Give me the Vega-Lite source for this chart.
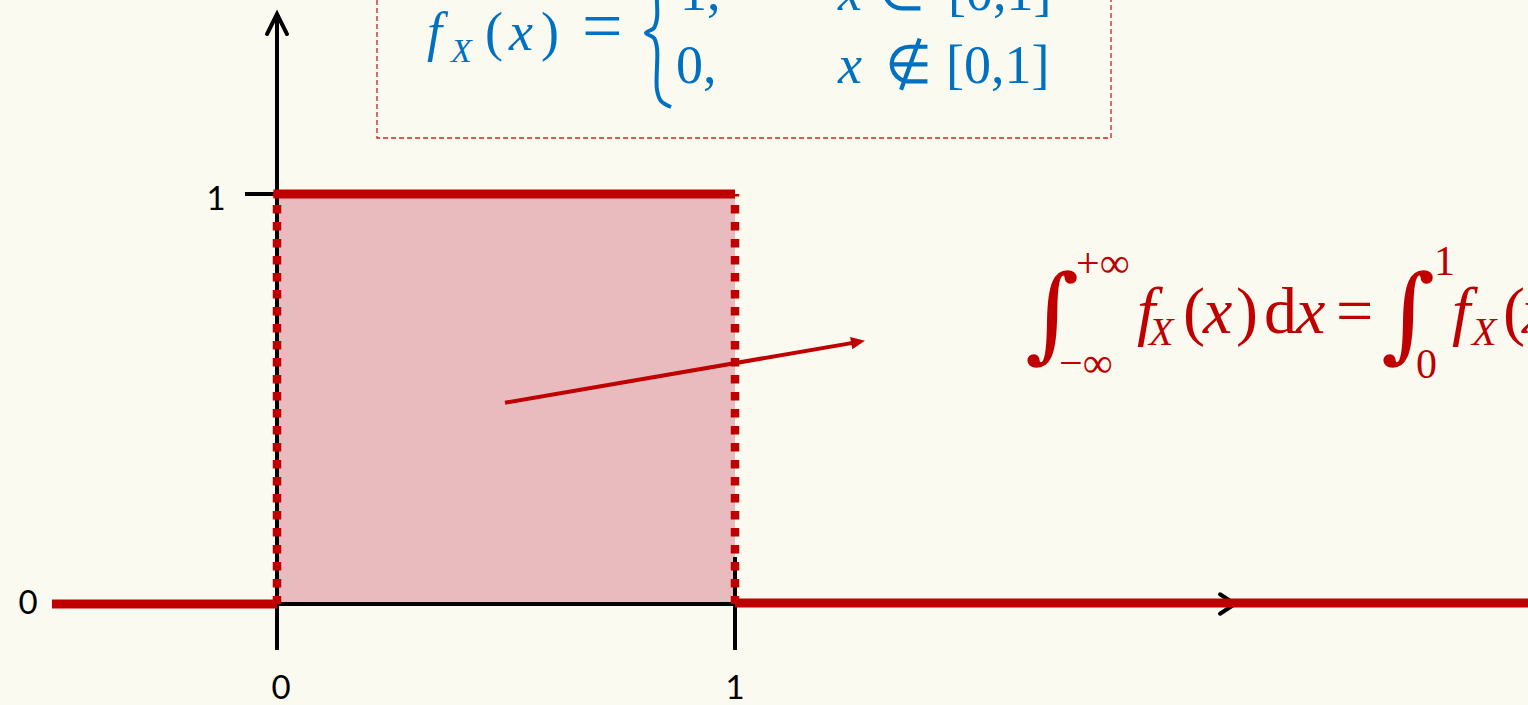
{
  "$schema": "https://vega.github.io/schema/vega-lite/v6.json",
  "width": 1528,
  "height": 705,
  "autosize": "none",
  "padding": 0,
  "background": "#FAFAF0",
  "config": {"view": {"stroke": null}},
  "encoding": {
    "x": {"field": "x", "type": "quantitative", "scale": {"domain": [-0.6048, 2.7314], "nice": false, "zero": false}, "axis": null},
    "y": {"field": "y", "type": "quantitative", "scale": {"domain": [-0.2463, 1.4732], "nice": false, "zero": false}, "axis": null}
  },
  "layer": [
    {
      "data": {"values": [{"x": 0, "x2": 1, "y": 0, "y2": 1}]},
      "mark": {"type": "rect", "fill": "#EABBBE"},
      "encoding": {"x2": {"field": "x2"}, "y2": {"field": "y2"}}
    },
    {
      "data": {"values": [{"x": 0.2183, "x2": 1.821, "y": 1.1366, "y2": 1.7}]},
      "mark": {"type": "rect", "filled": false, "stroke": "#D02020", "strokeWidth": 1.3, "strokeDash": [5, 3], "clip": true},
      "encoding": {"x2": {"field": "x2"}, "y2": {"field": "y2"}}
    },
    {
      "data": {"values": [
        {"part": "y axis", "x": 0, "x2": 0, "y": 0, "y2": 1.439},
        {"part": "x axis", "x": 0, "x2": 2.0917, "y": 0, "y2": 0},
        {"part": "tick 0", "x": 0, "x2": 0, "y": 0, "y2": -0.1122},
        {"part": "tick 1", "x": 1, "x2": 1, "y": 0.1146, "y2": -0.1122},
        {"part": "y tick 1", "x": -0.0699, "x2": 0, "y": 1, "y2": 1}
      ]},
      "mark": {"type": "rule", "color": "black", "strokeWidth": 4},
      "encoding": {"x2": {"field": "x2"}, "y2": {"field": "y2"}}
    },
    {
      "data": {"values": [{"x": 0, "y": 1.439}]},
      "mark": {"type": "point", "shape": "M -0.5 1 L 0 0 L 0.5 1", "size": 1600, "filled": false, "stroke": "black", "strokeWidth": 4, "opacity": 1, "strokeCap": "round"}
    },
    {
      "data": {"values": [{"x": 2.0917, "y": 0}]},
      "mark": {"type": "point", "shape": "M -1 -0.65 L 0 0 L -1 0.65", "size": 900, "filled": false, "stroke": "black", "strokeWidth": 4, "opacity": 1, "strokeCap": "round"}
    },
    {
      "data": {"values": [
        {"x": -0.4913, "x2": 0, "y": 0, "y2": 0},
        {"x": -0.008, "x2": 1, "y": 1, "y2": 1},
        {"x": 1, "x2": 2.7314, "y": 0.0024, "y2": 0.0024}
      ]},
      "mark": {"type": "rule", "color": "#C00000", "strokeWidth": 9},
      "encoding": {"x2": {"field": "x2"}, "y2": {"field": "y2"}}
    },
    {
      "data": {"values": [
        {"x": 0, "x2": 0, "y": 1, "y2": 0},
        {"x": 1, "x2": 1, "y": 1, "y2": 0}
      ]},
      "mark": {"type": "rule", "color": "#C00000", "strokeWidth": 8.5, "strokeDash": [8.5, 8.5], "strokeDashOffset": 6},
      "encoding": {"x2": {"field": "x2"}, "y2": {"field": "y2"}}
    },
    {
      "data": {"values": [{"x": 0.4978, "x2": 1.2666, "y": 0.491, "y2": 0.6388}]},
      "mark": {"type": "rule", "color": "#C00000", "strokeWidth": 4},
      "encoding": {"x2": {"field": "x2"}, "y2": {"field": "y2"}}
    },
    {
      "data": {"values": [{"x": 1.2838, "y": 0.6422}]},
      "mark": {"type": "point", "shape": "M 0 0 L -1 -0.45 L -1 0.45 Z", "size": 784, "angle": -9.77, "filled": true, "color": "#C00000", "opacity": 1}
    },
    {
      "data": {"values": [
        {"i": 0, "x": 0.8624, "y": 1.5707},
        {"i": 1, "x": 0.8384, "y": 1.5463},
        {"i": 2, "x": 0.8297, "y": 1.4976},
        {"i": 3, "x": 0.8297, "y": 1.4293},
        {"i": 4, "x": 0.8231, "y": 1.4049},
        {"i": 5, "x": 0.8057, "y": 1.3927},
        {"i": 6, "x": 0.8231, "y": 1.3805},
        {"i": 7, "x": 0.8297, "y": 1.3561},
        {"i": 8, "x": 0.8297, "y": 1.2537},
        {"i": 9, "x": 0.8384, "y": 1.2268},
        {"i": 10, "x": 0.8603, "y": 1.2122}
      ]},
      "mark": {"type": "line", "color": "#0070C0", "strokeWidth": 4, "interpolate": "catmull-rom", "clip": true},
      "encoding": {"order": {"field": "i"}}
    },
    {
      "data": {"values": [
        {"text": "0", "x": -0.5437, "y": 0},
        {"text": "1", "x": -0.1332, "y": 0.9854},
        {"text": "0", "x": 0.0087, "y": -0.2073},
        {"text": "1", "x": 1, "y": -0.2073}
      ]},
      "mark": {"type": "text", "font": "Lato", "fontSize": 33, "color": "black", "align": "center", "baseline": "middle"},
      "encoding": {"text": {"field": "text"}}
    },
    {
      "data": {"values": [
        {"text": "f", "x": 0.3275, "y": 1.3512},
        {"text": "x", "x": 0.5066, "y": 1.3512},
        {"text": "x", "x": 1.2249, "y": 1.2707},
        {"text": "x", "x": 1.2249, "y": 1.4488}
      ]},
      "mark": {"type": "text", "font": "Liberation Serif", "fontStyle": "italic", "fontSize": 54, "color": "#0070C0", "align": "left", "baseline": "alphabetic"},
      "encoding": {"text": {"field": "text"}}
    },
    {
      "data": {"values": [{"text": "X", "x": 0.3799, "y": 1.322}]},
      "mark": {"type": "text", "font": "Liberation Serif", "fontStyle": "italic", "fontSize": 34, "color": "#0070C0", "align": "left", "baseline": "alphabetic"},
      "encoding": {"text": {"field": "text"}}
    },
    {
      "data": {"values": [
        {"text": "(", "x": 0.4541, "y": 1.3512},
        {"text": ")", "x": 0.5764, "y": 1.3512},
        {"text": "0,", "x": 0.8712, "y": 1.2707},
        {"text": "1,", "x": 0.8799, "y": 1.4488},
        {"text": "∉", "x": 1.3275, "y": 1.2707},
        {"text": "∈", "x": 1.3122, "y": 1.4488},
        {"text": "[0,1]", "x": 1.4607, "y": 1.2707},
        {"text": "[0,1]", "x": 1.4651, "y": 1.4488}
      ]},
      "mark": {"type": "text", "font": "Liberation Serif", "fontSize": 54, "color": "#0070C0", "align": "left", "baseline": "alphabetic"},
      "encoding": {"text": {"field": "text"}}
    },
    {
      "data": {"values": [{"text": "=", "x": 0.6659, "y": 1.3512}]},
      "mark": {"type": "text", "font": "Liberation Serif", "fontSize": 72, "color": "#0070C0", "align": "left", "baseline": "alphabetic"},
      "encoding": {"text": {"field": "text"}}
    },
    {
      "data": {"values": [
        {"text": "f", "x": 1.8777, "y": 0.661},
        {"text": "x", "x": 2.0218, "y": 0.661},
        {"text": "x", "x": 2.2249, "y": 0.661},
        {"text": "f", "x": 2.5655, "y": 0.661},
        {"text": "x", "x": 2.7183, "y": 0.661}
      ]},
      "mark": {"type": "text", "font": "Liberation Serif", "fontStyle": "italic", "fontSize": 66, "color": "#C00000", "align": "left", "baseline": "alphabetic"},
      "encoding": {"text": {"field": "text"}}
    },
    {
      "data": {"values": [
        {"text": "X", "x": 1.9039, "y": 0.6317},
        {"text": "X", "x": 2.6092, "y": 0.6317}
      ]},
      "mark": {"type": "text", "font": "Liberation Serif", "fontStyle": "italic", "fontSize": 40, "color": "#C00000", "align": "left", "baseline": "alphabetic"},
      "encoding": {"text": {"field": "text"}}
    },
    {
      "data": {"values": [
        {"text": "(", "x": 1.9782, "y": 0.661},
        {"text": ")", "x": 2.0939, "y": 0.661},
        {"text": "d", "x": 2.1550, "y": 0.661},
        {"text": "=", "x": 2.3122, "y": 0.661},
        {"text": "(", "x": 2.6769, "y": 0.661}
      ]},
      "mark": {"type": "text", "font": "Liberation Serif", "fontSize": 66, "color": "#C00000", "align": "left", "baseline": "alphabetic"},
      "encoding": {"text": {"field": "text"}}
    },
    {
      "data": {"values": [
        {"text": "+∞", "x": 1.7445, "y": 0.7976},
        {"text": "−∞", "x": 1.7074, "y": 0.5537},
        {"text": "1", "x": 2.5262, "y": 0.8024},
        {"text": "0", "x": 2.4869, "y": 0.5512}
      ]},
      "mark": {"type": "text", "font": "Liberation Serif", "fontSize": 42, "color": "#C00000", "align": "left", "baseline": "alphabetic"},
      "encoding": {"text": {"field": "text"}}
    },
    {
      "data": {"values": [
        {"text": "∫", "x": 1.6921, "y": 0.6976},
        {"text": "∫", "x": 2.4694, "y": 0.6976}
      ]},
      "mark": {"type": "text", "font": "DejaVu Serif", "fontSize": 104, "color": "#C00000", "align": "center", "baseline": "middle"},
      "encoding": {"text": {"field": "text"}}
    }
  ]
}
